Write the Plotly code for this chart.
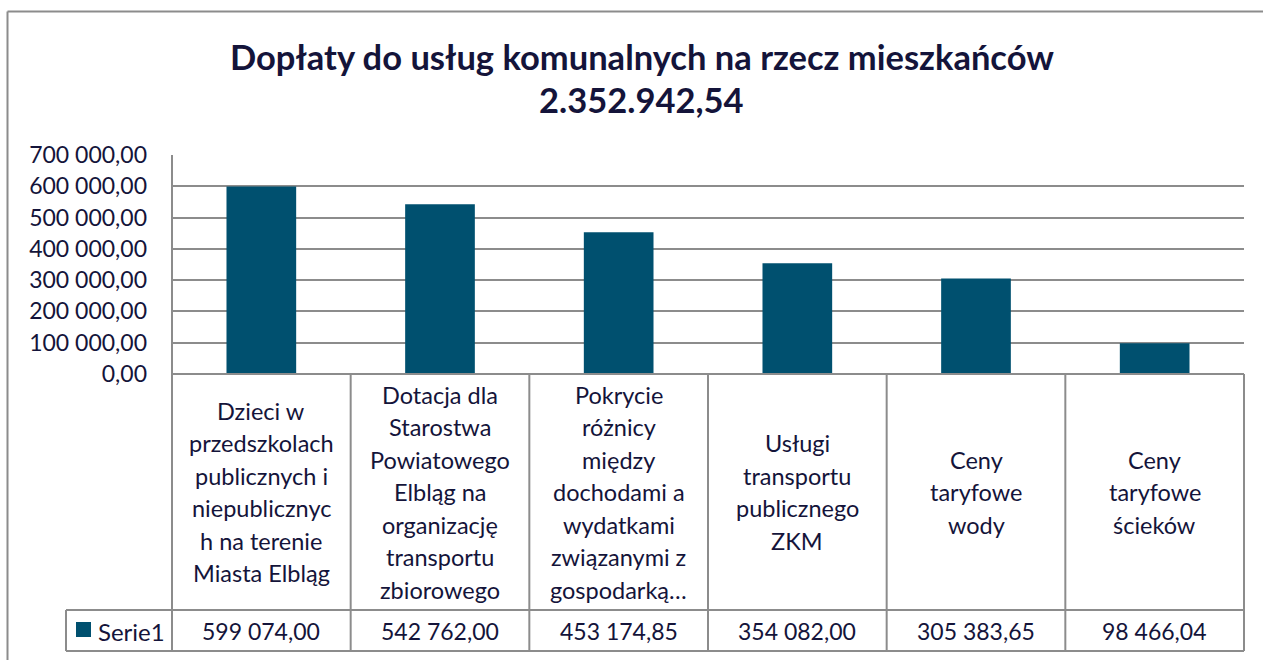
import plotly.graph_objects as go

# ---- data ----
categories = [
    "Dzieci w przedszkolach publicznych i niepublicznych na terenie Miasta Elbląg",
    "Dotacja dla Starostwa Powiatowego Elbląg na organizację transportu zbiorowego",
    "Pokrycie różnicy między dochodami a wydatkami związanymi z gospodarką…",
    "Usługi transportu publicznego ZKM",
    "Ceny taryfowe wody",
    "Ceny taryfowe ścieków",
]
category_lines = [
    ["Dzieci w", "przedszkolach", "publicznych i", "niepublicznyc", "h na terenie", "Miasta Elbląg"],
    ["Dotacja dla", "Starostwa", "Powiatowego", "Elbląg na", "organizację", "transportu", "zbiorowego"],
    ["Pokrycie", "różnicy", "między", "dochodami a", "wydatkami", "związanymi z", "gospodarką…"],
    ["Usługi", "transportu", "publicznego", "ZKM"],
    ["Ceny", "taryfowe", "wody"],
    ["Ceny", "taryfowe", "ścieków"],
]
values = [599074.00, 542762.00, 453174.85, 354082.00, 305383.65, 98466.04]
series_name = "Serie1"
title_line1 = "Dopłaty do usług komunalnych na rzecz mieszkańców"
title_line2 = "2.352.942,54"

# ---- styling ----
W, H = 1263, 660
L, R, T, B = 172, 1244, 155, 374
BAR = "#00506F"
TXT = "#14143A"
GRID = "#8C8C8C"
FONT = "Lato"


def px(x):
    return (x - L) / (R - L)


def py(y):
    return (B - y) / (B - T)


def fmt(v):
    return f"{v:,.2f}".replace(",", " ").replace(".", ",")


xs = list(range(len(values)))

fig = go.Figure(
    go.Bar(x=xs, y=values, marker=dict(color=BAR, line=dict(width=0)), width=0.39,
           name=series_name, showlegend=False, hoverinfo="skip")
)

shapes = []
annotations = []


def line(x0, y0, x1, y1, xref="paper", color=GRID, width=2):
    shapes.append(dict(type="line", xref=xref, yref="paper", x0=x0, y0=y0, x1=x1, y1=y1,
                       line=dict(color=color, width=width), layer="above"))


# outer chart border (top and left)
line(px(7.5), py(11.5), px(W + 5), py(11.5))
line(px(7.5), py(11.5), px(7.5), py(H + 5))

# axis line and table lines
line(0, py(T), 0, py(651))
line(1, py(B), 1, py(651))
line(0, 0, 1, 0)
line(px(66), py(610), 1, py(610))
line(px(66), py(651), 1, py(651))
line(px(66), py(610), px(66), py(651))
for i in range(1, len(values)):
    line(i - 0.5, py(B), i - 0.5, py(651), xref="x")

# legend key
shapes.append(dict(type="rect", xref="paper", yref="paper", x0=px(76), x1=px(91),
                   y0=py(622), y1=py(637), fillcolor=BAR, line=dict(width=0), layer="above"))
annotations.append(dict(text=series_name, xref="paper", yref="paper", x=px(96), y=py(631),
                        xanchor="left", yanchor="middle", showarrow=False,
                        font=dict(family=FONT, size=24, color=TXT)))

# category labels (table header)
for i, lines in enumerate(category_lines):
    n = len(lines)
    for k, t in enumerate(lines):
        yc = 492 + (k - (n - 1) / 2) * 32.5
        annotations.append(dict(text=t, xref="x", yref="paper", x=i, y=py(yc),
                                xanchor="center", yanchor="middle", showarrow=False,
                                font=dict(family=FONT, size=23.5, color=TXT)))

# values row
for i, v in enumerate(values):
    annotations.append(dict(text=fmt(v), xref="x", yref="paper", x=i, y=py(631),
                            xanchor="center", yanchor="middle", showarrow=False,
                            font=dict(family=FONT, size=23, color=TXT)))

# title
annotations.append(dict(text=f"<b>{title_line1}</b>", xref="paper", yref="paper",
                        x=px(641.5), y=py(57), xanchor="center", yanchor="middle",
                        showarrow=False, font=dict(family=FONT, size=34.5, color=TXT)))
annotations.append(dict(text=f"<b>{title_line2}</b>", xref="paper", yref="paper",
                        x=px(641.5), y=py(99), xanchor="center", yanchor="middle",
                        showarrow=False, font=dict(family=FONT, size=34.5, color=TXT)))

fig.update_layout(
    width=W, height=H,
    margin=dict(l=L, r=W - R, t=T, b=H - B, pad=0),
    paper_bgcolor="white", plot_bgcolor="white",
    separators=", ",
    shapes=shapes, annotations=annotations,
    xaxis=dict(range=[-0.5, len(values) - 0.5], showticklabels=False, showgrid=False,
               zeroline=False, showline=False, ticks="", fixedrange=True),
    yaxis=dict(range=[0, 700000], dtick=100000, tickformat=",.2f",
               showgrid=True, gridcolor=GRID, gridwidth=2, zeroline=False,
               showline=False, ticks="", ticklabelstandoff=24,
               tickfont=dict(family=FONT, size=23, color=TXT), fixedrange=True),
)

fig.write_html("out.html", config={"displayModeBar": False},
               post_script="document.body.style.margin='0';")
